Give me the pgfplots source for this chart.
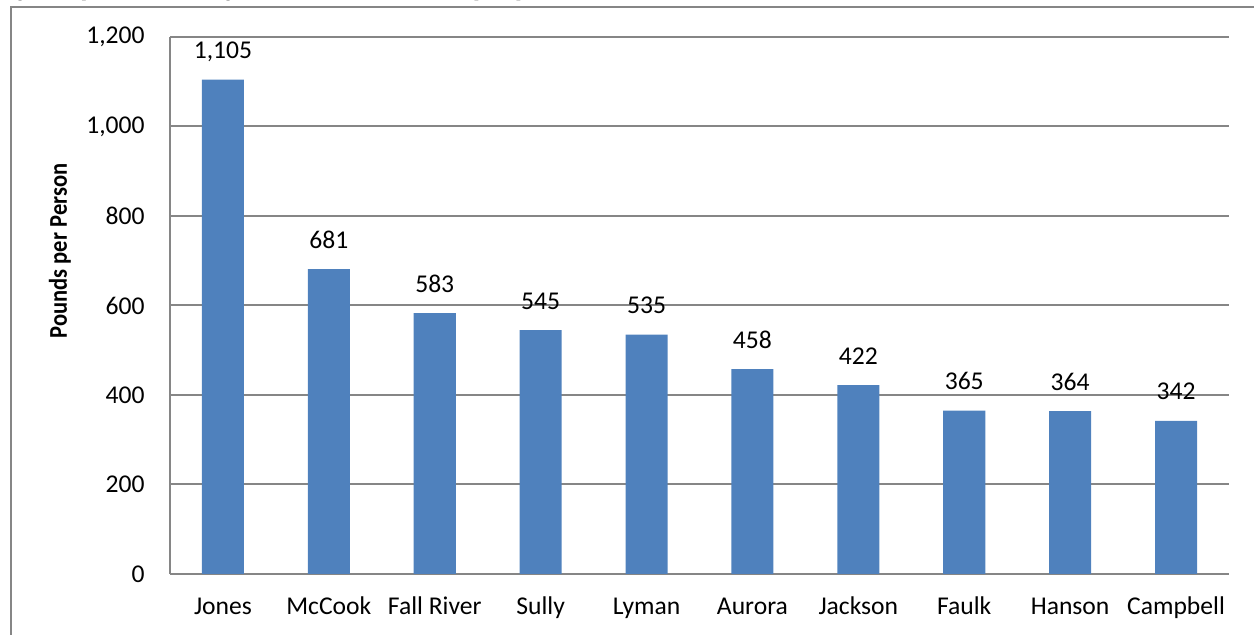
\documentclass[border=0pt]{standalone}
\usepackage{fontspec}
\setmainfont{Carlito}
\newfontfamily\titlefont{Liberation Serif}
\usepackage{pgfplots}
\pgfplotsset{compat=1.18}
\definecolor{barblue}{HTML}{4F81BD}
\definecolor{gridgray}{HTML}{868686}

\pgfplotstableread{
x name value
0 Jones 1105
1 McCook 681
2 FallRiver 583
3 Sully 545
4 Lyman 535
5 Aurora 458
6 Jackson 422
7 Faulk 365
8 Hanson 364
9 Campbell 342
}\datatable

\begin{document}
\begin{tikzpicture}
\useasboundingbox (0,0) rectangle (627bp,317.5bp);
\draw[gridgray, line width=1bp] (5.25bp,-5bp) -- (5.25bp,314bp) -- (640bp,314bp);
\node[anchor=base west, inner sep=0, font=\titlefont\bfseries\fontsize{7.5bp}{9bp}\selectfont] at (1.5bp,318.7bp)
  {Figure 5. Top 10 Counties' Total Agricultural Greenhouse Gas Emissions per Population};
\begin{axis}[
  at={(85bp,30.5bp)}, anchor=south west,
  scale only axis, width=529.5bp, height=268.5bp,
  xmin=-0.5, xmax=9.5, ymin=0, ymax=1200,
  ytick={0,200,...,1200},
  xtick={0,...,9},
  xticklabels={Jones,McCook,Fall River,Sully,Lyman,Aurora,Jackson,Faulk,Hanson,Campbell},
  major tick length=0,
  axis x line=bottom, axis y line=left,
  axis line style={-, gridgray, line width=1bp},
  ymajorgrids, grid style={gridgray, line width=1bp},
  ybar, bar width=21bp,
  font=\fontsize{12.8bp}{15bp}\selectfont,
  /pgf/number format/assume math mode=true,
  /pgf/number format/1000 sep={,},
  yticklabel style={anchor=east, inner sep=0, xshift=-12.5bp},
  xticklabel style={anchor=base, inner sep=0, yshift=-20.5bp},
  every axis y label/.style={at={(axis description cs:0,0.6015)}, xshift=-55bp, rotate=90, anchor=center,
     font=\bfseries\fontsize{12.8bp}{15bp}\selectfont},
  ylabel={\scalebox{0.88}[1]{Pounds per Person}},
  nodes near coords,
  every node near coord/.append style={anchor=base, inner sep=0, yshift=10.5bp, black,
     /pgf/number format/assume math mode=true, /pgf/number format/1000 sep={,}},
]
\addplot[fill=barblue, draw=none] table[x=x, y=value] {\datatable};
\end{axis}
\end{tikzpicture}
\end{document}
